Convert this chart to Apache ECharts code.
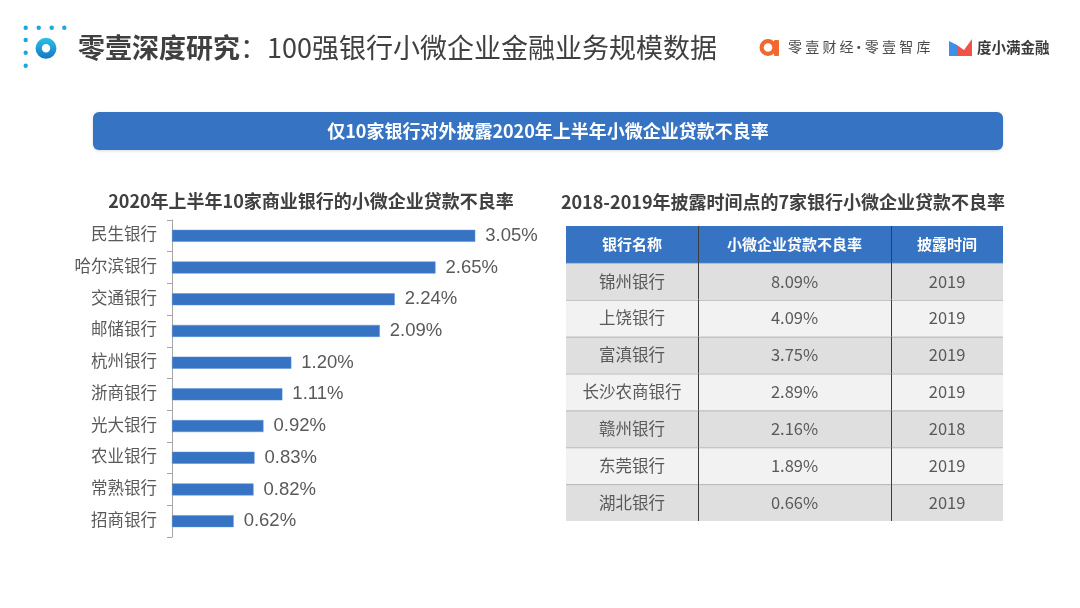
<!DOCTYPE html>
<html>
<head>
<meta charset="utf-8">
<script src="https://cdn.jsdelivr.net/npm/echarts@6/dist/echarts.min.js"></script>
<style>
html,body{margin:0;padding:0;background:#fff;}
#main{width:1080px;height:608px;}
</style>
</head>
<body>
<div id="main"></div>
<script>
// ---- data ----
var barCategories = ['民生银行','哈尔滨银行','交通银行','邮储银行','杭州银行','浙商银行','光大银行','农业银行','常熟银行','招商银行'];
var barValues = [3.05, 2.65, 2.24, 2.09, 1.20, 1.11, 0.92, 0.83, 0.82, 0.62];
var tableHeaders = ['银行名称','小微企业贷款不良率','披露时间'];
var tableBanks = ['锦州银行','上饶银行','富滇银行','长沙农商银行','赣州银行','东莞银行','湖北银行'];
var tableRates = [8.09, 4.09, 3.75, 2.89, 2.16, 1.89, 0.66];
var tableYears = ['2019','2019','2019','2019','2018','2019','2019'];

var mainTitleBold = '零壹深度研究';
var mainTitleRest = '：100强银行小微企业金融业务规模数据';
var bannerText = '仅10家银行对外披露2020年上半年小微企业贷款不良率';
var barTitle = '2020年上半年10家商业银行的小微企业贷款不良率';
var tableTitle = '2018-2019年披露时间点的7家银行小微企业贷款不良率';
var brand1 = '零壹财经·零壹智库';
var brand2 = '度小满金融';

var FONT = 'Arial, "Liberation Sans", "Noto Sans CJK SC", sans-serif';
var CJK = '"Noto Sans CJK SC", sans-serif';
var BLUE = '#3674c3';

// table rows: index 0 = header
var tableRowsCat = ['header'].concat(tableBanks);
var tableData = tableRowsCat.map(function (c, i) { return [0, i]; });
var colFrac = [0, 0.302, 0.744, 1];

var chart = echarts.init(document.getElementById('main'));

var graphics = [];
// logo dots
[[25.7,27.7],[38.7,27.7],[51.7,27.7],[64.3,27.7],[25.7,40],[25.7,52.7],[25.7,65.7]].forEach(function (p) {
  graphics.push({type:'circle', shape:{cx:p[0], cy:p[1], r:2.2}, style:{fill:'#1ea6de'}});
});
graphics.push({type:'ring', shape:{cx:46, cy:48.3, r:10.5, r0:4.2},
  style:{fill:new echarts.graphic.LinearGradient(0,0,0,1,[{offset:0,color:'#2ec0ea'},{offset:1,color:'#1476c6'}])}});
// main title
graphics.push({type:'text', x:78, y:48, style:{
  text:'{b|' + mainTitleBold + '}{n|' + mainTitleRest + '}',
  verticalAlign:'middle', align:'left',
  rich:{
    b:{fontSize:27, fontWeight:'bold', fill:'#404040', fontFamily:CJK},
    n:{fontSize:27, fontWeight:'normal', fill:'#404040', fontFamily:CJK}
  }
}});
// brand 1 logo (orange)
graphics.push({type:'ring', shape:{cx:768, cy:47.5, r:8.5, r0:4.3}, style:{fill:'#f2682f'}});
graphics.push({type:'rect', shape:{x:774, y:40, width:5, height:16, r:1}, style:{fill:'#f2682f'}});
// brand 1 text, spaced characters
(function () {
  var x = 788;
  for (var i = 0; i < brand1.length; i++) {
    var ch = brand1.charAt(i);
    if (ch === '·') {
      graphics.push({type:'text', x:x + 2, y:47, style:{text:ch, fontSize:14, fill:'#4a4a4a', fontFamily:CJK, verticalAlign:'middle', align:'center'}});
      x += 8;
    } else {
      graphics.push({type:'text', x:x, y:47, style:{text:ch, fontSize:14, fill:'#4a4a4a', fontFamily:CJK, verticalAlign:'middle', align:'left'}});
      x += 17.2;
    }
  }
})();
// brand 2 icon
graphics.push({type:'polygon', shape:{points:[[949,41],[957,45],[957,56],[949,56]]}, style:{fill:'#3d8fe8'}});
graphics.push({type:'polygon', shape:{points:[[957,45],[964,50],[972,39],[972,56],[957,56]]}, style:{fill:'#f0524a'}});
graphics.push({type:'text', x:977, y:47, style:{text:brand2, fontSize:14.5, fontWeight:'bold', fill:'#3a3a3a', fontFamily:CJK, verticalAlign:'middle', align:'left'}});
// banner
graphics.push({type:'rect', shape:{x:93, y:112, width:910, height:38, r:6}, style:{fill:BLUE, shadowBlur:3, shadowColor:'rgba(0,0,0,0.15)', shadowOffsetY:1}});
graphics.push({type:'text', x:548, y:131, style:{text:bannerText, fontSize:18, fontWeight:'bold', fill:'#ffffff', fontFamily:CJK, verticalAlign:'middle', align:'center'}});
// sub titles
graphics.push({type:'text', x:311, y:201, style:{text:barTitle, fontSize:18, fontWeight:'bold', fill:'#404040', fontFamily:CJK, verticalAlign:'middle', align:'center'}});
graphics.push({type:'text', x:783, y:202, style:{text:tableTitle, fontSize:18, fontWeight:'bold', fill:'#404040', fontFamily:CJK, verticalAlign:'middle', align:'center'}});

var option = {
  backgroundColor:'#ffffff',
  animation:false,
  graphic: graphics,
  grid:[
    {left:172, top:220, width:348, height:317},
    {left:566, top:226, width:437, height:295}
  ],
  xAxis:[
    {gridIndex:0, type:'value', min:0, max:3.5, show:false},
    {gridIndex:1, type:'value', min:0, max:1, show:false}
  ],
  yAxis:[
    {gridIndex:0, type:'category', data:barCategories, inverse:true,
      axisLine:{show:true, lineStyle:{color:'#a6a6a6', width:1}},
      axisTick:{show:true, length:5, lineStyle:{color:'#a6a6a6'}},
      axisLabel:{color:'#595959', fontSize:16.5, fontFamily:FONT, margin:15},
      splitLine:{show:false}
    },
    {gridIndex:1, type:'category', data:tableRowsCat, inverse:true, show:false}
  ],
  series:[
    {
      type:'bar', xAxisIndex:0, yAxisIndex:0, data:barValues, barWidth:12,
      itemStyle:{color:BLUE, borderColor:'#5b8fd4', borderWidth:0.5},
      label:{show:true, position:'right', distance:10, color:'#595959', fontSize:18.5, fontFamily:FONT,
        formatter:function (p) { return p.value.toFixed(2) + '%'; }}
    },
    {
      type:'custom', xAxisIndex:1, yAxisIndex:1, data:tableData,
      renderItem:function (params, api) {
        var idx = api.value(1);
        var cs = params.coordSys;
        var cy = api.coord([0, idx])[1];
        var h = api.size([0, 1])[1];
        var top = cy - h / 2;
        var children = [];
        var isHeader = idx === 0;
        var bg = isHeader ? BLUE : (idx % 2 === 1 ? '#dfdfdf' : '#f2f2f2');
        children.push({type:'rect', shape:{x:cs.x, y:top, width:cs.width, height:h}, style:{fill:bg}});
        if (!isHeader) {
          children.push({type:'line', shape:{x1:cs.x, y1:top+0.5, x2:cs.x+cs.width, y2:top+0.5}, style:{stroke:'#b5b5b5', lineWidth:1}});
        }
        var texts;
        if (isHeader) {
          texts = tableHeaders;
        } else {
          var r = idx - 1;
          texts = [tableBanks[r], tableRates[r].toFixed(2) + '%', tableYears[r]];
        }
        for (var c = 0; c < 3; c++) {
          var x0 = cs.x + cs.width * colFrac[c];
          var x1 = cs.x + cs.width * colFrac[c + 1];
          children.push({type:'text', style:{
            text:texts[c], x:(x0 + x1) / 2, y:cy, align:'center', verticalAlign:'middle',
            fill: isHeader ? '#ffffff' : '#595959',
            font: isHeader ? ('bold 15px ' + CJK) : ('16.5px ' + CJK)
          }});
          if (c > 0) {
            children.push({type:'line', shape:{x1:Math.round(x0)+0.5, y1:top, x2:Math.round(x0)+0.5, y2:top+h}, style:{stroke:'#3c3c3c', lineWidth:1}});
          }
        }
        return {type:'group', children:children};
      }
    }
  ]
};
chart.setOption(option);
</script>
</body>
</html>
